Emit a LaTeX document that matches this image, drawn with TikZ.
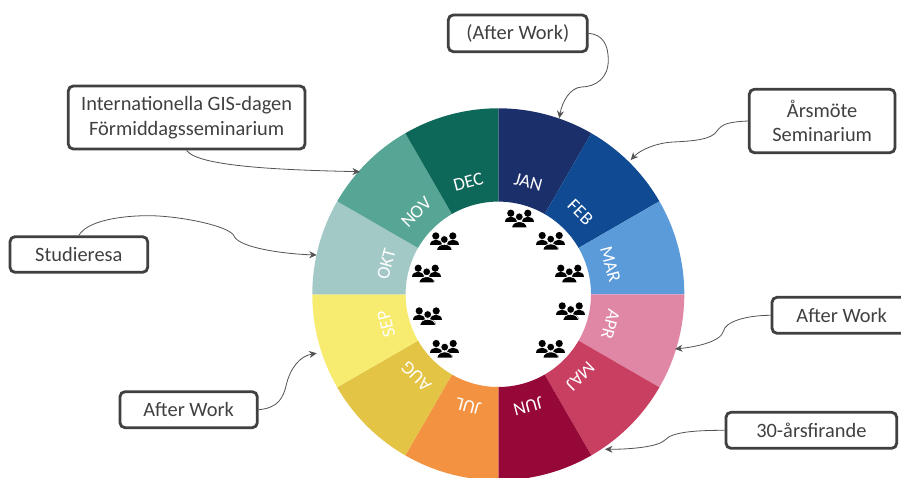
\documentclass[tikz,border=0pt]{standalone}
\usepackage{fontspec}
\setmainfont{Carlito}
\usetikzlibrary{arrows.meta}
\definecolor{cJAN}{HTML}{1B2F6B}
\definecolor{cFEB}{HTML}{0F4A92}
\definecolor{cMAR}{HTML}{5B9BD9}
\definecolor{cAPR}{HTML}{E087A6}
\definecolor{cMAJ}{HTML}{C93F62}
\definecolor{cJUN}{HTML}{960837}
\definecolor{cJUL}{HTML}{F39240}
\definecolor{cAUG}{HTML}{E3C444}
\definecolor{cSEP}{HTML}{F7EC70}
\definecolor{cOKT}{HTML}{A3C9C7}
\definecolor{cNOV}{HTML}{57A594}
\definecolor{cDEC}{HTML}{0E685A}
\definecolor{boxline}{HTML}{404040}
\tikzset{
  notebox/.style={draw=boxline,line width=2.8pt,rounded corners=5pt,fill=white,
    text=boxline,font=\fontsize{20.4}{24.4}\selectfont,align=center,inner sep=0pt,anchor=center},
  monthlabel/.style={text=white,font=\fontsize{18.5}{20}\selectfont,inner sep=0pt,anchor=center},
  link/.style={draw=boxline!90,line width=0.8pt,-{Stealth[length=7.5pt,width=7pt]}},
  people/.pic={
    \fill[black] (-8.5,-5.8) circle (3.6);
    \fill[black] (8.5,-5.8) circle (3.6);
    \fill[black] (-14.5,3.2) .. controls (-14.5,-3.8) and (-2.5,-3.8) .. (-2.5,3.2) -- cycle;
    \fill[black] (14.5,3.2) .. controls (14.5,-3.8) and (2.5,-3.8) .. (2.5,3.2) -- cycle;
    \fill[black,draw=white,line width=0.7pt] (0,-2.2) circle (3.9);
    \fill[black,draw=white,line width=0.7pt] (-7.8,8.7) .. controls (-7.8,0.6) and (7.8,0.6) .. (7.8,8.7) -- cycle;
  }
}
\newcommand{\notebox}[6]{% name, x0, y0, x1, y1, text
  \node[notebox,minimum width={(#4-#2)*1pt},minimum height={(#5-#3)*1pt}] (#1) at ({(#2+#4)/2},{(#3+#5)/2}) {#6};
}
\begin{document}
\begin{tikzpicture}[x=1pt,y=-1pt]
\useasboundingbox (0,0) rectangle (901,478);
\fill[white] (0,0) rectangle (901,478);
% wheel
\begin{scope}[shift={(498.3,294.3)},y=1pt]
  \foreach \m/\a in {JAN/90,FEB/60,MAR/30,APR/0,MAJ/-30,JUN/-60,JUL/-90,AUG/-120,SEP/-150,OKT/-180,NOV/-210,DEC/-240}{
    \pgfmathsetmacro{\b}{\a-30}
    \fill[c\m] (\a:92.7pt) -- (\a:186pt) arc[start angle=\a,end angle=\b,radius=186pt] -- (\b:92.7pt) arc[start angle=\b,end angle=\a,radius=92.7pt] -- cycle;
  }
  \foreach \t/\a in {JAN/75,FEB/45,MAR/15,APR/-15,MAJ/-45,JUN/-75,JUL/-105,AUG/-135,SEP/-165,OKT/165,NOV/135,DEC/105}{
    \node[monthlabel,rotate=\a-90] (m\t) at (\a:116pt) {\t};
  }
\end{scope}
% people icons
\foreach \x/\y in {519.3/219,550.7/241.3,569.3/274,570.7/311.7,550.7/349.3,444.3/241.7,426.7/274,427.7/316.7,444.7/349.3}{
  \pic at (\x,\y) {people};
}
% boxes
\notebox{aw1}{448.3}{15}{587.3}{51.7}{(After Work)}
\notebox{ars}{749.3}{89.3}{895}{152.7}{Årsmöte\\Seminarium}
\notebox{gis}{68.3}{86}{305}{149}{Internationella GIS-dagen\\Förmiddagsseminarium}
\notebox{stu}{10}{236.7}{147.7}{272.3}{Studieresa}
\notebox{aw2}{772}{297.3}{911.4}{333.3}{After Work}
\notebox{tre}{726}{412.3}{896.7}{448.3}{30-årsfirande}
\notebox{aw3}{120}{391.7}{257.3}{427.7}{After Work}
% connector ends
\coordinate (t1) at (559.3,118.3);
\coordinate (t2) at (630.7,160);
\coordinate (t3) at (360,171.7);
\coordinate (t4) at (316.7,255);
\coordinate (t5) at (675,349);
\coordinate (t6) at (605,449.3);
\coordinate (t7) at (316.7,353.3);
% connectors
\draw[link] (aw1.east) .. controls +(14,1) and (608.3,45) .. (608.3,60)
  .. controls (608.3,78) and (596,86.7) .. (581.7,87) .. controls (570,87.5) and (562,102) .. (t1);
\draw[link] (ars.west) .. controls +(-20,1) and (722,124) .. (717,131)
  .. controls (712,139) and (696,141) .. (673,142) .. controls (656,143) and (640,150) .. (t2);
\draw[link] (gis.south) .. controls +(11,16) and (280,170) .. (t3);
\draw[link] (stu.north) .. controls +(11,-18) and (135,215.5) .. (150,215.7)
  .. controls (180,216) and (230,226) .. (234,236) .. controls (239,248) and (285,254) .. (t4);
\draw[link] (aw2.west) .. controls +(-25,0) and (725,322) .. (723.5,331)
  .. controls (721,342) and (695,347) .. (t5);
\draw[link] (tre.west) .. controls +(-30,0) and (672,432) .. (665,440)
  .. controls (658,447) and (630,449.3) .. (t6);
\draw[link] (aw3.east) .. controls (278,408) and (283,398) .. (286,386)
  .. controls (290,368) and (300,356) .. (t7);
\end{tikzpicture}
\end{document}
